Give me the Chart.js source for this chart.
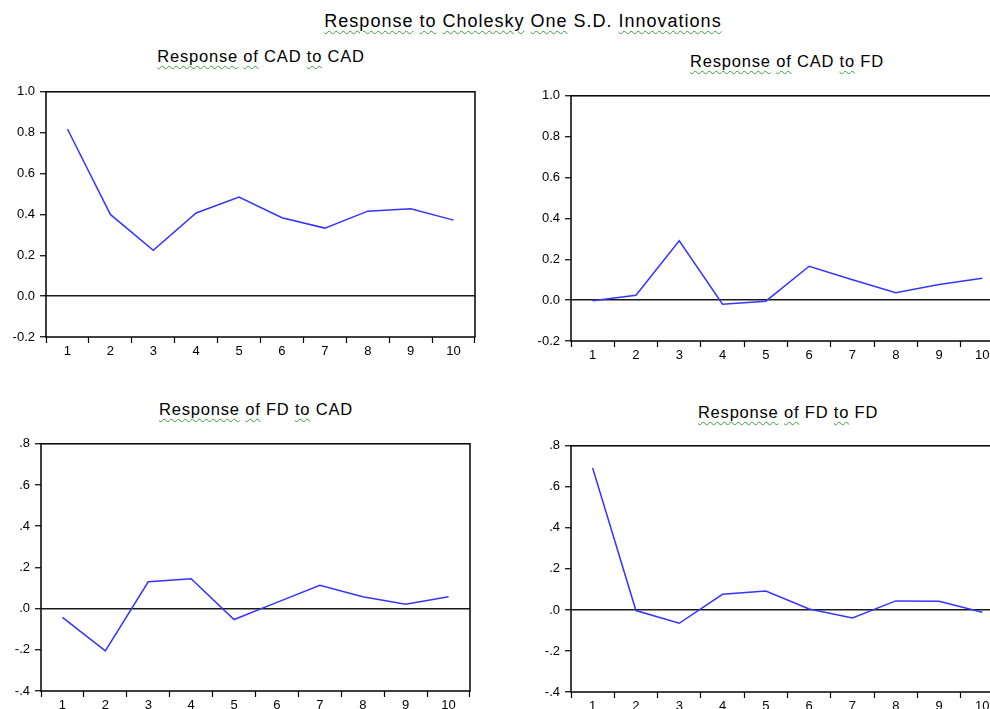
<!DOCTYPE html>
<html>
<head>
<meta charset="utf-8">
<script src="https://cdn.jsdelivr.net/npm/chart.js@4"></script>
<style>
  html, body { margin: 0; padding: 0; background: #fff; }
  body { width: 990px; height: 709px; position: relative; overflow: hidden; font-family: "Liberation Sans", Arial, sans-serif; }
  canvas { position: absolute; }
  .title { position: absolute; color: #000; white-space: nowrap; transform: translate(-50%, -50%); }
  .main { font-size: 18px; letter-spacing: 1px; }
  .sub { font-size: 16.5px; letter-spacing: 0.8px; }
  .sp { text-decoration: underline wavy #3c9a3c; text-decoration-thickness: 1px; text-underline-offset: 3px; }
</style>
</head>
<body>
<div class="title main" style="left:523px; top:21px;"><span class="sp">Response</span> <span class="sp">to</span> <span class="sp">Cholesky</span> <span class="sp">One</span> S.D. <span class="sp">Innovations</span></div>
<div class="title sub" style="left:261px; top:56px;"><span class="sp">Response</span> <span class="sp">of</span> CAD <span class="sp">to</span> CAD</div>
<div class="title sub" style="left:787px; top:61px;"><span class="sp">Response</span> <span class="sp">of</span> CAD <span class="sp">to</span> FD</div>
<div class="title sub" style="left:256px; top:409px;"><span class="sp">Response</span> <span class="sp">of</span> FD <span class="sp">to</span> CAD</div>
<div class="title sub" style="left:788px; top:412px;"><span class="sp">Response</span> <span class="sp">of</span> FD <span class="sp">to</span> FD</div>

<canvas id="c1" width="490" height="286" style="left:0px; top:79px;"></canvas>
<canvas id="c2" width="500" height="286" style="left:525px; top:83px;"></canvas>
<canvas id="c3" width="490" height="288" style="left:0px; top:431px;"></canvas>
<canvas id="c4" width="500" height="287" style="left:525px; top:433px;"></canvas>

<script>
// periods after the shock
const periods = ['1', '2', '3', '4', '5', '6', '7', '8', '9', '10'];

// impulse responses
const cadToCad = [0.818, 0.400, 0.224, 0.407, 0.485, 0.384, 0.333, 0.416, 0.428, 0.372];
const cadToFd  = [-0.003, 0.024, 0.290, -0.020, -0.005, 0.166, 0.100, 0.036, 0.077, 0.107];
const fdToCad  = [-0.043, -0.205, 0.130, 0.145, -0.053, 0.030, 0.113, 0.058, 0.021, 0.058];
const fdToFd   = [0.692, -0.003, -0.065, 0.076, 0.092, 0.005, -0.039, 0.044, 0.042, -0.011];

// y axis ticks
const cadTicks = [-0.2, 0.0, 0.2, 0.4, 0.6, 0.8, 1.0];
const cadTickLabels = ['-0.2', '0.0', '0.2', '0.4', '0.6', '0.8', '1.0'];
const fdTicks = [-0.4, -0.2, 0.0, 0.2, 0.4, 0.6, 0.8];
const fdTickLabels = ['-.4', '-.2', '.0', '.2', '.4', '.6', '.8'];

// box around the plot area
const frame = {
  id: 'frame',
  beforeDatasetsDraw(chart) {
    const a = chart.chartArea;
    const c = chart.ctx;
    c.save();
    c.strokeStyle = '#000';
    c.lineWidth = 1.5;
    c.strokeRect(a.left, a.top, a.right - a.left, a.bottom - a.top);
    c.restore();
  }
};

const font = { family: '"Liberation Sans", Arial, sans-serif', size: 13 };

const makePanel = (id, data, ticks, labels, yWidth, pad) => {
  new Chart(document.getElementById(id), {
    type: 'line',
    data: {
      labels: periods,
      datasets: [{
        data: data,
        borderColor: '#3535ff',
        borderWidth: 1.5,
        pointRadius: 0,
        tension: 0,
        fill: false
      }]
    },
    options: {
      responsive: false,
      animation: false,
      layout: { padding: pad },
      plugins: { legend: { display: false }, tooltip: { enabled: false } },
      scales: {
        x: {
          offset: true,
          border: { display: false },
          grid: { offset: true, drawOnChartArea: false, tickLength: 6, tickColor: '#000', tickWidth: 1.2 },
          ticks: { color: '#000', font: font, padding: 1, maxRotation: 0, autoSkip: false },
          afterFit: (s) => { s.height = 28; }
        },
        y: {
          min: ticks[0],
          max: ticks[ticks.length - 1],
          border: { display: false },
          afterBuildTicks: (s) => { s.ticks = ticks.map(v => ({ value: v })); },
          grid: {
            color: (ctx) => (ctx.tick && Math.abs(ctx.tick.value) < 1e-9) ? '#1a1a1a' : 'rgba(0,0,0,0)',
            lineWidth: 1.5,
            tickLength: 6,
            tickColor: '#000',
            tickWidth: 1.2
          },
          ticks: {
            color: '#000',
            font: font,
            padding: 5,
            callback: (v, i) => labels[i]
          },
          afterFit: (s) => { s.width = yWidth; }
        }
      }
    },
    plugins: [frame]
  });
};

makePanel('c1', cadToCad, cadTicks, cadTickLabels, 46, { top: 6, right: 15, bottom: 0, left: 0 });
makePanel('c2', cadToFd, cadTicks, cadTickLabels, 46, { top: 6, right: 21, bottom: 0, left: 0 });
makePanel('c3', fdToCad, fdTicks, fdTickLabels, 41, { top: 6, right: 20, bottom: 0, left: 0 });
makePanel('c4', fdToFd, fdTicks, fdTickLabels, 46, { top: 6, right: 21, bottom: 0, left: 0 });
</script>
</body>
</html>
